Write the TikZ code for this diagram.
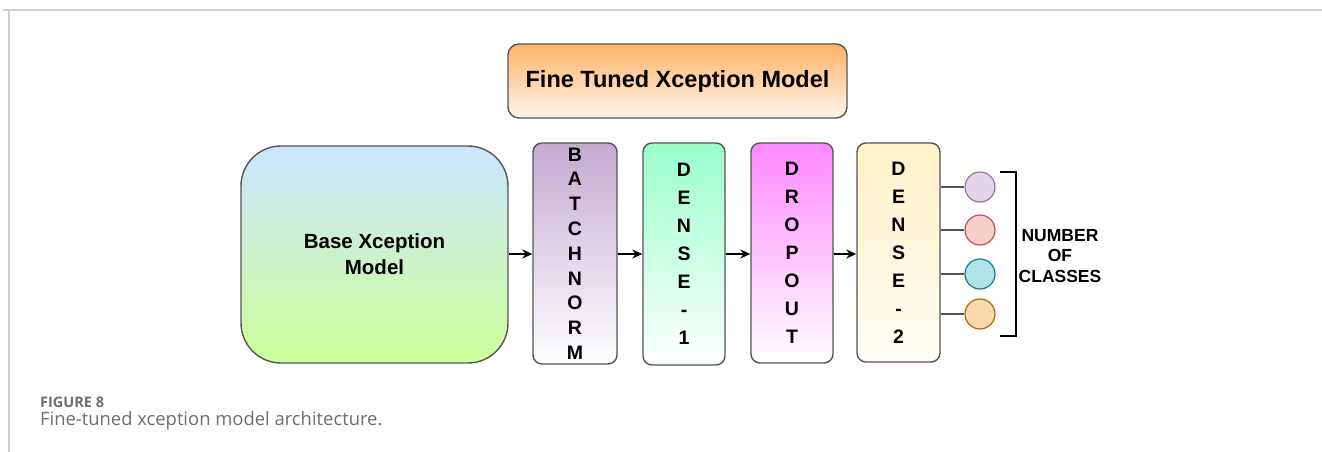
\documentclass[tikz,border=0pt]{standalone}
\usepackage{fontspec}
\setmainfont{Liberation Sans}
\newfontfamily\capfont{Open Sans}
\usetikzlibrary{arrows.meta}
\definecolor{strokegray}{HTML}{555555}
\definecolor{framegray}{HTML}{CFCFCF}
\definecolor{captiongray}{HTML}{6E6E6E}
\definecolor{titletop}{HTML}{FFB366}
\definecolor{titlebot}{HTML}{FFF5EC}
\definecolor{basetop}{HTML}{CCE5FF}
\definecolor{basebot}{HTML}{CCFF99}
\definecolor{bntop}{HTML}{C3ABD0}
\definecolor{donetop}{HTML}{99FFCC}
\definecolor{droptop}{HTML}{FF88FF}
\definecolor{dtwotop}{HTML}{FFF2C6}
\definecolor{dtwobot}{HTML}{FFFDF6}
\definecolor{caD}{HTML}{9673A6}\definecolor{caF}{HTML}{E1D5E7}
\definecolor{cbD}{HTML}{B85450}\definecolor{cbF}{HTML}{F8CECC}
\definecolor{ccD}{HTML}{0E8088}\definecolor{ccF}{HTML}{B0E3E6}
\definecolor{cdD}{HTML}{B46504}\definecolor{cdF}{HTML}{FAD7AC}
\tikzset{
  box/.style={draw=strokegray, line width=1.4pt, rounded corners=9pt, inner sep=0pt},
  layer/.style={box, minimum width=83pt, minimum height=221pt, align=center,
    font=\fontsize{19.5}{28}\selectfont\bfseries},
  flow/.style={-{Stealth[length=10pt,width=9pt]}, line width=1.3pt, black},
  cls/.style={circle, minimum size=30pt, inner sep=0pt, line width=1.2pt},
  lbl/.style={font=\fontsize{17.5}{20.5}\selectfont\bfseries, align=center}
}
\begin{document}
\begin{tikzpicture}[x=1pt,y=-1pt]
\useasboundingbox (0,0) rectangle (1322,452);
% page frame
\draw[framegray, line width=1.5pt] (3,10) -- (1322,10);
\draw[framegray, line width=1.5pt] (9,10) -- (9,452);
% title
\node[box, rounded corners=11pt, minimum width=339pt, minimum height=74pt,
  top color=titletop, bottom color=titlebot,
  font=\fontsize{23.5}{26}\selectfont\bfseries] (title) at (677.5,81) {Fine Tuned Xception Model};
% base model
\node[box, rounded corners=40pt, minimum width=267pt, minimum height=217pt,
  top color=basetop, bottom color=basebot, align=center,
  font=\fontsize{20.5}{26}\selectfont\bfseries] (base) at (374.5,254.5) {Base Xception\\Model};
% layers
\node[layer, minimum width=84pt, top color=bntop, bottom color=white,
  font=\fontsize{19.5}{24.8}\selectfont\bfseries] (bn) at (575,253.5)
  {B\\A\\T\\C\\H\\N\\O\\R\\M};
\node[layer, minimum width=82pt, minimum height=222pt, top color=donetop, bottom color=white] (d1) at (684,254)
  {D\\E\\N\\S\\E\\-\\1};
\node[layer, minimum width=82pt, minimum height=220pt, top color=droptop, bottom color=white] (drop) at (792,253)
  {D\\R\\O\\P\\O\\U\\T};
\node[layer, minimum width=83pt, minimum height=219pt, top color=dtwotop, bottom color=dtwobot] (d2) at (898.5,252.5)
  {D\\E\\N\\S\\E\\-\\2};
% arrows
\draw[flow] (base.east |- 0,254) -- (bn.west |- 0,254);
\draw[flow] (bn.east |- 0,254) -- (d1.west |- 0,254);
\draw[flow] (d1.east |- 0,254) -- (drop.west |- 0,254);
\draw[flow] (drop.east |- 0,254) -- (d2.west |- 0,254);
% output classes
\node[cls, draw=caD, fill=caF] (c1) at (980,187) {};
\node[cls, draw=cbD, fill=cbF] (c2) at (980,230) {};
\node[cls, draw=ccD, fill=ccF] (c3) at (980,274) {};
\node[cls, draw=cdD, fill=cdF] (c4) at (980,314) {};
\foreach \c in {c1,c2,c3,c4}
  \draw[strokegray, line width=1.2pt] (d2.east |- \c) -- (\c.west);
% bracket
\coordinate (bt) at (1000,172);
\coordinate (bb) at (1000,336);
\draw[black, line width=2.6pt] (bt) -- (1016,172) -- (1016,336) -- (bb);
\node[lbl] (num) at (1060,256) {NUMBER\\OF\\CLASSES};
% caption
\node[anchor=west, text=captiongray, font=\capfont\fontsize{14.5}{16}\selectfont\bfseries, inner sep=0pt] (fig) at (40,402) {FIGURE 8};
\node[anchor=west, text=captiongray, font=\capfont\fontsize{18.4}{20}\selectfont, inner sep=0pt] (cap) at (40,421) {Fine-tuned xception model architecture.};
\end{tikzpicture}
\end{document}
